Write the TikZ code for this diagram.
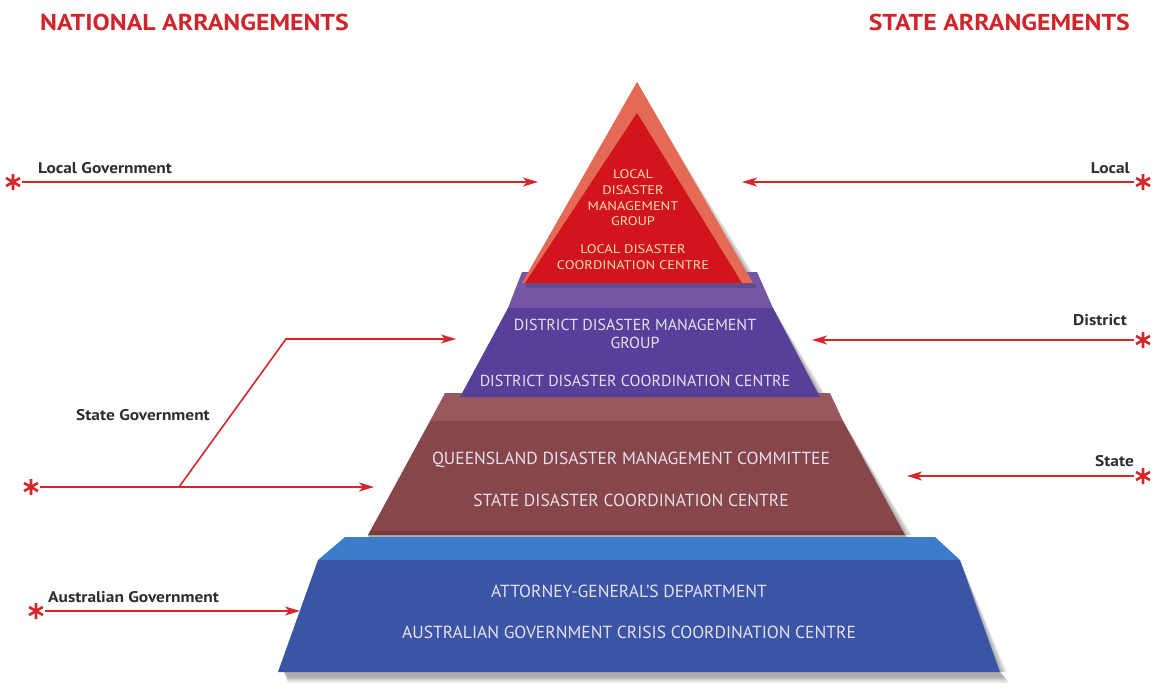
\documentclass[tikz,border=0pt]{standalone}
\usepackage{fontspec}
\setmainfont{PT Sans}
\newfontfamily\wideb[FakeStretch=1.12]{PT Sans Bold}
\newfontfamily\wider[FakeStretch=1.15]{PT Sans}
\usetikzlibrary{arrows.meta}
\definecolor{arrred}{HTML}{D3272B}
\definecolor{headred}{HTML}{D0252B}
\definecolor{labgray}{HTML}{2E2E2E}
\definecolor{redin}{HTML}{D2141C}
\definecolor{redout}{HTML}{E46A55}
\definecolor{purtop}{HTML}{7456A4}
\definecolor{purfront}{HTML}{57409A}
\definecolor{brtop}{HTML}{98585E}
\definecolor{brfront}{HTML}{874649}
\definecolor{bltop}{HTML}{3C7CC8}
\definecolor{blfront}{HTML}{3B55A6}
\definecolor{tiertext}{HTML}{E6E0EC}
\definecolor{redtext}{HTML}{F6DDB8}
\tikzset{
  conn/.style={draw=arrred, line width=1.6pt, -{Stealth[length=15pt,width=9pt,inset=4pt]}},
  stardot/.style={circle, minimum size=18pt, inner sep=0pt,
    path picture={
      \draw[arrred, line width=2.6pt]
        ([shift={(90:8pt)}]path picture bounding box.center) -- ([shift={(270:8pt)}]path picture bounding box.center)
        ([shift={(30:8pt)}]path picture bounding box.center) -- ([shift={(210:8pt)}]path picture bounding box.center)
        ([shift={(150:8pt)}]path picture bounding box.center) -- ([shift={(330:8pt)}]path picture bounding box.center);
    }},
  head/.style={text=headred, font=\wideb\fontsize{23}{26}\selectfont, inner sep=0pt},
  lab/.style={text=labgray, font=\wideb\fontsize{15.5}{18}\selectfont, inner sep=0pt},
  purtxt/.style={text=tiertext, font=\fontsize{16}{19}\selectfont, inner sep=0pt, align=center},
  tiertxt/.style={text=tiertext, font=\fontsize{17.5}{20}\selectfont, inner sep=0pt, align=center},
  redtxt/.style={text=redtext, font=\wider\fontsize{12.5}{14}\selectfont, inner sep=0pt, align=center},
  shadowfill/.style={fill=black, opacity=0.07},
}
\begin{document}
\begin{tikzpicture}[x=1pt,y=-1pt]
\useasboundingbox (0,0) rectangle (1153,689);
\fill[white] (0,0) rectangle (1153,689);

% ---- shadows ----
\foreach \d in {2,4,6,8,10}{
  \fill[shadowfill] (284,672) -- (1000,672) -- (1004+\d*0.5,676+\d*0.7) -- (288,676+\d*0.7) -- cycle;
  \fill[shadowfill] (368,535) -- (905,535) -- (910+\d*0.5,539+\d*0.6) -- (372,539+\d*0.6) -- cycle;
  \fill[shadowfill] (460,397) -- (820,397) -- (825+\d*0.5,400+\d*0.6) -- (466,400+\d*0.6) -- cycle;
  \fill[shadowfill] (527,283) -- (753,283) -- (757+\d*0.4,286+\d*0.5) -- (532,286+\d*0.5) -- cycle;
  \fill[shadowfill] (753+\d*0.6,283) -- (637+\d*0.3,90) -- (637,82) -- (753,283) -- cycle;
  \fill[shadowfill] (843,421) -- (905+\d*0.7,535) -- (905,535) -- cycle;
  \fill[shadowfill] (773,308) -- (820+\d*0.7,397) -- (820,397) -- cycle;
  \fill[shadowfill] (960,560) -- (1000+\d*0.7,672) -- (1000,672) -- cycle;
}

% ---- blue tier (Australian Government) ----
\fill[bltop] (345,537) -- (935,537) -- (960,560) -- (318,560) -- cycle;
\fill[blfront] (318,560) -- (960,560) -- (1000,672) -- (278,672) -- cycle;
% ---- brown tier (State) ----
\fill[brtop] (445,393) -- (830,393) -- (843,421) -- (430,421) -- cycle;
\fill[brfront] (430,421) -- (843,421) -- (905,535) -- (368,535) -- cycle;
\fill[black, opacity=0.15] (368,535) -- (905,535) -- (903,531) -- (370,531) -- cycle;
% ---- purple tier (District) ----
\fill[purtop] (522,272) -- (757,272) -- (773,308) -- (508,308) -- cycle;
\fill[purfront] (508,308) -- (773,308) -- (820,397) -- (460,397) -- cycle;
% ---- red tier (Local) ----
\fill[black, opacity=0.15] (524,283) -- (754,283) -- (757,288) -- (527,288) -- cycle;
\fill[redout] (637,82) -- (753,283) -- (522,283) -- cycle;
\fill[redin] (637,113) -- (742,283) -- (525,283) -- cycle;

% ---- tier texts ----
\node[redtxt] (lt1) at (633,174) {LOCAL};
\node[redtxt] (lt2) at (633,190) {DISASTER};
\node[redtxt] (lt3) at (633,206) {MANAGEMENT};
\node[redtxt] (lt4) at (633,221) {GROUP};
\node[redtxt] (lt5) at (633,249) {LOCAL DISASTER};
\node[redtxt] (lt6) at (633,265) {COORDINATION CENTRE};

\node[purtxt] (dt1) at (635,325) {DISTRICT DISASTER MANAGEMENT};
\node[purtxt] (dt2) at (635,343) {GROUP};
\node[purtxt] (dt3) at (635,381) {DISTRICT DISASTER COORDINATION CENTRE};

\node[tiertxt] (st1) at (631,460) {QUEENSLAND DISASTER MANAGEMENT COMMITTEE};
\node[tiertxt] (st2) at (631,500) {STATE DISASTER COORDINATION CENTRE};

\node[tiertxt] (at1) at (629,591) {ATTORNEY-GENERAL’S DEPARTMENT};
\node[tiertxt] (at2) at (629,632) {AUSTRALIAN GOVERNMENT CRISIS COORDINATION CENTRE};

% ---- headings ----
\node[head, anchor=west] (hn) at (40,22) {NATIONAL ARRANGEMENTS};
\node[head, anchor=east] (hs) at (1130,22) {STATE ARRANGEMENTS};

% ---- left labels and connectors ----
\node[lab, anchor=west] (lg) at (38,168) {Local Government};
\node[stardot] (s1) at (13,182) {};
\coordinate (t1) at (538,182);
\draw[conn] (s1) -- (t1);

\node[lab, anchor=west] (sg) at (76,415) {State Government};
\node[stardot] (s2) at (31,487) {};
\coordinate (fork) at (179,487);
\coordinate (bend) at (286,339);
\coordinate (t2) at (374,487);
\coordinate (t3) at (456,339);
\draw[conn] (s2) -- (t2);
\draw[conn] (fork) -- (bend) -- (t3);

\node[lab, anchor=west] (ag) at (48,597) {Australian Government};
\node[stardot] (s3) at (36,611) {};
\coordinate (t4) at (300,611);
\draw[conn] (s3) -- (t4);

% ---- right labels and connectors ----
\node[lab, anchor=east] (rl) at (1130,168) {Local};
\node[stardot] (r1) at (1143,182) {};
\coordinate (u1) at (742,182);
\draw[conn] (r1) -- (u1);

\node[lab, anchor=east] (rd) at (1127,320) {District};
\node[stardot] (r2) at (1143,340) {};
\coordinate (u2) at (812,340);
\draw[conn] (r2) -- (u2);

\node[lab, anchor=east] (rs) at (1134,461) {State};
\node[stardot] (r3) at (1143,476) {};
\coordinate (u3) at (907,476);
\draw[conn] (r3) -- (u3);
\end{tikzpicture}
\end{document}
